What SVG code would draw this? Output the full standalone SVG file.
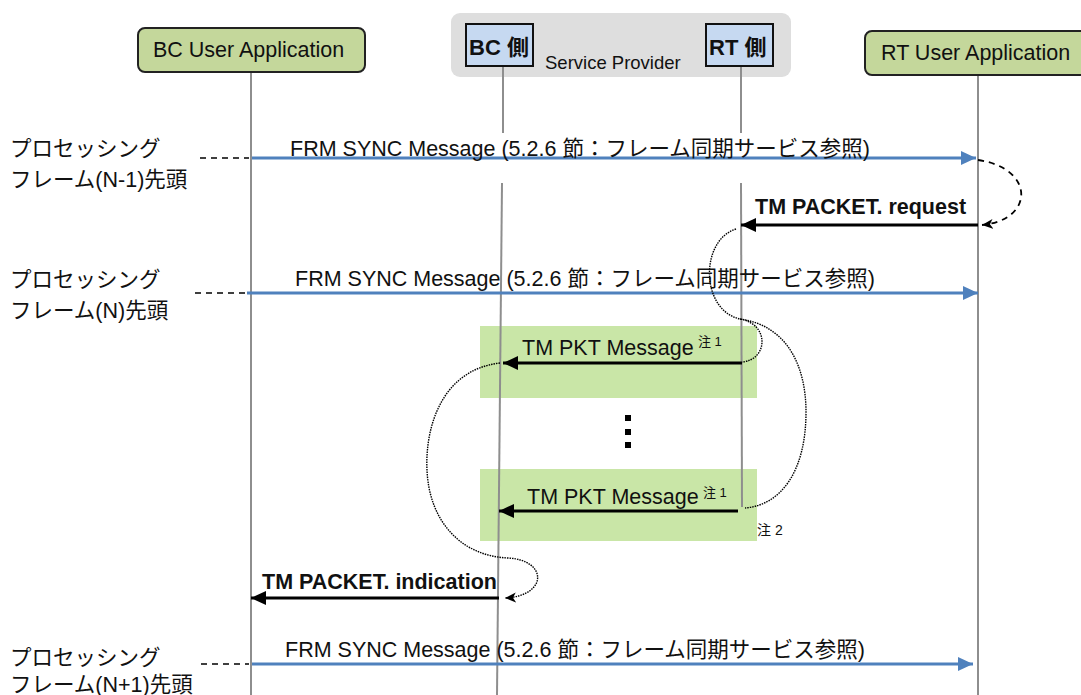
<svg xmlns="http://www.w3.org/2000/svg" width="1081" height="695" viewBox="0 0 1081 695">
  <style>
    text { font-family: "Liberation Sans", Arial, "Noto Sans CJK JP", sans-serif; fill: #111; }
    .lbl { font-size: 21.5px; }
    .bold { font-size: 21.5px; font-weight: bold; }
    .note { font-size: 13px; }
    .life { stroke: #8e8e8e; stroke-width: 2; fill: none; }
    .app { fill: #c4d79b; stroke: #222; stroke-width: 2; }
    .side { fill: #c6d9f1; stroke: #111; stroke-width: 2; }
    .sync { stroke: #4f81bd; stroke-width: 3; fill: none; marker-end: url(#blueHead); }
    .prim { stroke: #000; stroke-width: 3; fill: none; marker-end: url(#blackHead); }
    .tick { stroke: #000; stroke-width: 1.6; stroke-dasharray: 6 5; fill: none; }
    .flow { stroke: #000; stroke-width: 1.4; stroke-dasharray: 1.5 1; fill: none; }
    .band { fill: #c9e6a7; }
  </style>
  <defs>
    <marker id="blueHead" markerUnits="userSpaceOnUse" markerWidth="16" markerHeight="14" refX="15" refY="7" orient="auto">
      <path d="M0,0 L15,7 L0,14 z" fill="#4f81bd"/>
    </marker>
    <marker id="blackHead" markerUnits="userSpaceOnUse" markerWidth="16" markerHeight="14" refX="15" refY="7" orient="auto">
      <path d="M0,0 L15,7 L0,14 z" fill="#000"/>
    </marker>
    <marker id="smallHead" markerUnits="userSpaceOnUse" markerWidth="12" markerHeight="10" refX="11" refY="5" orient="auto">
      <path d="M0,0 L11,5 L0,10 L3,5 z" fill="#000"/>
    </marker>
  </defs>

  <!-- service provider container -->
  <rect x="451" y="13" width="340" height="64" rx="9" fill="#dedede"/>
  <text x="545" y="69" style="font-size:18.5px">Service Provider</text>

  <!-- highlighted packet bands -->
  <rect class="band" x="480" y="326" width="277" height="72"/>
  <rect class="band" x="480" y="469" width="277" height="72"/>

  <!-- lifelines -->
  <g id="lifelines">
    <line class="life" x1="251" y1="72" x2="251" y2="695"/>
    <line class="life" x1="503" y1="66" x2="503" y2="133"/>
    <line class="life" x1="502" y1="183" x2="497" y2="695"/>
    <line class="life" x1="741" y1="66" x2="741" y2="133"/>
    <line class="life" x1="741" y1="183" x2="742" y2="507"/>
    <line class="life" x1="978" y1="75" x2="978" y2="695"/>
  </g>

  <g id="bc-user-app">
    <rect class="app" x="138" y="28" width="227" height="44" rx="7"/>
    <text class="lbl" x="153" y="57">BC User Application</text>
  </g>
  <g id="bc-side">
    <rect class="side" x="466" y="24" width="67" height="42"/>
    <text class="bold" x="469" y="55" style="font-size:22px">BC 側</text>
  </g>
  <g id="rt-side">
    <rect class="side" x="706" y="24" width="67" height="42"/>
    <text class="bold" x="709" y="55" style="font-size:22px">RT 側</text>
  </g>
  <g id="rt-user-app">
    <rect class="app" x="865" y="31" width="226" height="44" rx="7"/>
    <text class="lbl" x="881" y="60">RT User Application</text>
  </g>

  <!-- frame boundary markers -->
  <g id="frame-labels">
    <text class="lbl" x="10" y="156">プロセッシング</text>
    <text class="lbl" x="10" y="187">フレーム(N-1)先頭</text>
    <text class="lbl" x="10" y="287">プロセッシング</text>
    <text class="lbl" x="10" y="318">フレーム(N)先頭</text>
    <text class="lbl" x="10" y="665">プロセッシング</text>
    <text class="lbl" x="10" y="692">フレーム(N+1)先頭</text>
  </g>

  <g id="connectors">
    <line class="tick" x1="200" y1="158" x2="249" y2="158"/>
    <line class="tick" x1="195" y1="293" x2="247" y2="293"/>
    <line class="tick" x1="201" y1="664" x2="249" y2="664"/>

    <line class="sync" x1="252" y1="158" x2="976" y2="158"/>
    <line class="sync" x1="247" y1="293" x2="978" y2="293"/>
    <line class="sync" x1="252" y1="664" x2="973" y2="664"/>

    <path class="tick" d="M978,160 C1035,168 1035,220 982,225" style="stroke-width:1.8" marker-end="url(#smallHead)"/>
    <line class="prim" x1="978" y1="225" x2="741" y2="225"/>

    <path class="flow" d="M736,229 C700,240 700,310 740,319 C770,324 768,360 742,362"/>
    <path class="flow" d="M740,319 C790,326 806,370 806,412 C806,470 782,505 745,508"/>

    <line class="prim" x1="742" y1="363" x2="503" y2="363"/>
    <line class="prim" x1="738" y1="511" x2="499" y2="511"/>

    <path class="flow" d="M500,363 C440,370 425,430 427,470 C429,520 460,556 508,558 C548,560 548,596 505,598" marker-end="url(#smallHead)"/>
    <line class="prim" x1="499" y1="598" x2="251" y2="598"/>
  </g>

  <!-- message labels -->
  <g id="message-labels">
    <text class="lbl" x="290" y="156">FRM SYNC Message (5.2.6 節：フレーム同期サービス参照)</text>
    <text class="lbl" x="295" y="286">FRM SYNC Message (5.2.6 節：フレーム同期サービス参照)</text>
    <text class="lbl" x="285" y="657">FRM SYNC Message (5.2.6 節：フレーム同期サービス参照)</text>
    <text class="bold" x="755" y="214">TM PACKET. request</text>
    <text class="lbl" x="522" y="355">TM PKT Message</text>
    <text class="note" x="698" y="346">注 1</text>
    <text class="lbl" x="527" y="504">TM PKT Message</text>
    <text class="note" x="703" y="497">注 1</text>
    <text x="757" y="535" style="font-size:14px">注 2</text>
    <text class="bold" x="262" y="589">TM PACKET. indication</text>
  </g>

  <!-- continuation marks -->
  <g id="ellipsis" fill="#000">
    <rect x="625" y="415" width="6" height="6"/>
    <rect x="625" y="429" width="6" height="6"/>
    <rect x="625" y="442" width="6" height="6"/>
  </g>
</svg>
